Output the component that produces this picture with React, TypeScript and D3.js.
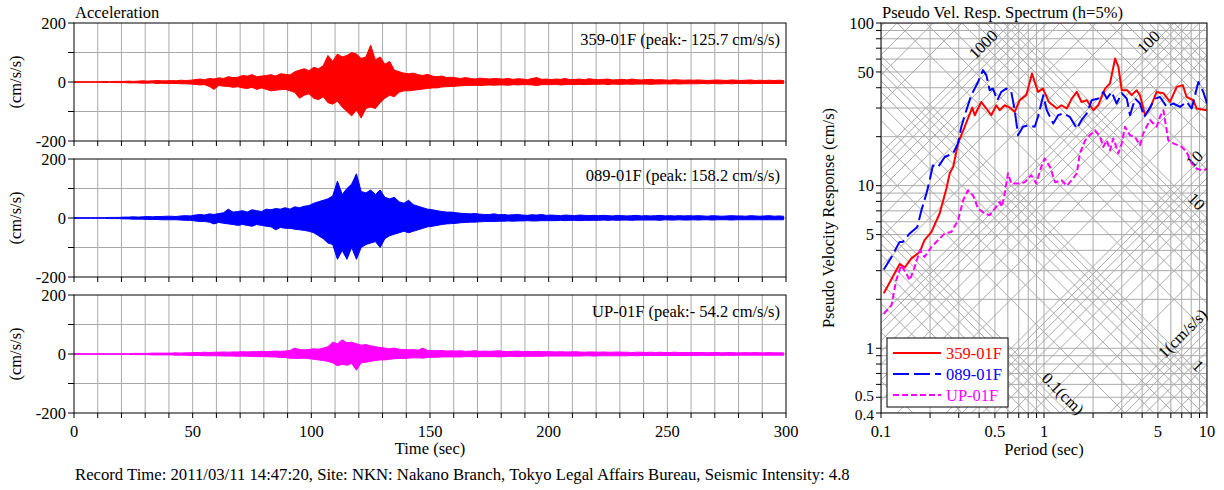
import React from 'react';
import * as d3 from 'd3';

const FONT = '"Liberation Serif", "Times New Roman", serif';
const FS = 16.5;

// ---------- acceleration records (2 s bins: upper / lower envelope, cm/s/s) ----------
const BIN = 2;
const timeTicks = [0, 50, 100, 150, 200, 250, 300];
const accGrid = [-100, 0, 100];
const accTicks = [-200, -100, 0, 100, 200];
const accLabels = [-200, 0, 200];

const hi359 = [1,1,1,1,1,1,2,1,2,2, 2,3,2,3,4,3,4,5,4,4, 5,4,6,5,6,8,10,8,12,10, 14,12,18,15,16,22,20,25,18,20,
  22,25,20,28,26,24,35,40,45,38, 50,45,55,90,70,95,85,90,100,95, 80,85,125,75,85,60,70,40,35,30, 28,30,25,22,26,20,18,20,15,16,
  14,12,15,12,10,13,12,10,12,11, 10,12,9,11,10,8,12,15,9,10, 8,10,9,12,8,9,10,8,11,9, 8,9,10,7,8,9,7,10,8,7,
  8,9,7,8,7,6,8,7,6,7, 6,7,6,5,6,7,6,5,7,6, 5,6,7,5,6,5,6,5,6,5];
const lo359 = [1,1,1,1,1,1,2,1,2,2, 2,3,3,3,4,4,3,5,4,5, 5,5,6,6,7,8,10,9,15,25, 12,14,15,18,16,20,22,18,25,20,
  25,30,28,26,25,30,35,55,45,40, 55,60,50,70,75,65,85,100,115,95, 122,90,85,90,70,55,45,50,35,30, 30,28,26,24,22,20,20,17,16,15,
  14,13,12,12,11,12,11,10,11,10, 10,11,9,10,9,9,10,12,9,9, 9,8,10,9,8,9,8,9,8,8, 8,7,9,7,8,8,7,8,7,7,
  7,8,7,7,6,7,6,7,6,6, 6,6,5,6,5,6,6,5,6,5, 5,5,6,5,5,5,5,5,5,5];
const hi089 = [1,1,1,1,1,1,1,2,2,2, 3,3,4,3,4,5,4,5,5,6, 6,5,7,8,7,10,12,10,14,12, 15,18,30,20,22,25,20,28,25,22,
  30,28,32,30,35,30,38,35,40,42, 50,55,60,65,75,125,80,100,115,150, 90,85,95,80,95,70,65,70,55,50, 60,45,40,35,30,28,25,22,20,20,
  18,16,15,14,15,13,12,12,14,11, 12,10,11,12,10,9,11,10,12,9, 10,9,8,10,9,8,10,9,8,9, 8,9,8,7,9,8,7,8,9,7,
  8,7,8,9,7,8,7,8,7,8, 7,8,7,6,8,7,6,7,8,7, 7,6,8,7,6,7,8,6,7,6];
const lo089 = [1,1,1,1,1,1,1,2,2,2, 3,3,4,4,4,5,5,5,6,6, 6,6,7,8,8,10,12,12,14,20, 15,18,20,22,25,22,25,28,22,25,
  28,30,40,32,35,35,38,40,42,45, 50,60,70,85,90,140,110,140,100,140, 100,90,85,80,100,70,60,55,50,45, 50,45,40,35,30,28,25,22,20,19,
  18,16,15,14,14,13,12,12,12,11, 11,10,11,10,10,9,10,10,9,9, 9,9,8,9,8,8,9,8,8,8, 8,7,8,7,8,7,7,8,7,7,
  7,7,7,8,6,7,7,6,7,7, 6,7,6,6,7,6,6,6,7,6, 6,6,6,6,6,6,6,6,6,6];
const hiUP = [1,1,1,1,1,1,1,1,1,1, 1,1,2,2,2,2,3,3,3,3, 3,4,3,4,4,5,5,6,5,6, 6,7,6,7,7,8,7,8,8,9,
  8,9,10,9,10,12,20,15,14,15, 18,16,20,25,40,35,48,38,40,35, 30,32,28,25,22,20,18,20,16,15, 14,15,13,20,12,12,11,12,10,11,
  10,11,9,10,11,9,10,9,10,11, 9,8,9,10,8,9,8,9,8,8, 8,7,8,7,7,8,7,6,7,7, 6,7,6,6,7,6,6,5,6,6,
  5,6,5,6,5,5,6,5,5,5, 5,5,5,4,5,5,4,5,5,4, 4,5,4,5,4,4,5,4,4,4];
const loUP = [1,1,1,1,1,1,1,1,1,1, 1,1,2,2,2,2,3,3,3,3, 3,4,4,4,5,5,5,6,6,6, 6,7,7,7,8,7,8,8,9,9,
  9,10,10,12,12,14,15,15,14,16, 18,20,22,25,30,40,35,38,32,55, 30,28,25,22,20,20,18,16,15,15, 14,13,13,14,12,11,11,10,10,10,
  10,10,9,9,10,9,9,9,9,10, 9,8,8,9,8,8,8,8,8,7, 7,7,7,7,7,7,7,6,6,7, 6,6,6,6,6,6,6,5,6,5,
  5,5,5,5,5,5,5,5,5,5, 5,5,4,5,5,4,5,4,5,4, 4,4,4,4,4,4,4,4,4,4];

const channelNames = ['359-01F', '089-01F', 'UP-01F'];
const peakTexts = ['359-01F (peak:- 125.7 cm/s/s)', '089-01F (peak: 158.2 cm/s/s)', 'UP-01F (peak:- 54.2 cm/s/s)'];
const channelColors = ['#ff0000', '#0000ff', '#ff00ff'];
const channelDash = ['none', '16,5', '6,3'];
const highs = [hi359, hi089, hiUP];
const lows = [lo359, lo089, loUP];

// ---------- pseudo velocity response spectra: [period (s), Sv (cm/s)] ----------
const sv359: [number, number][] = [[0.104,2.18],[0.130,3.29],[0.140,3.14],[0.153,3.56],[0.173,3.91],[0.185,4.62],[0.204,5.19],[0.229,6.74],
  [0.252,9.6],[0.264,11.9],[0.277,13.0],[0.297,18.2],[0.326,23.0],[0.363,30.2],[0.376,27.1],[0.412,32.7],[0.443,29.8],[0.475,27.1],
  [0.510,31.2],[0.535,29.1],[0.574,31.2],[0.616,30.2],[0.661,28.4],[0.709,33.5],[0.779,36.0],[0.844,48.9],[0.919,37.7],[0.986,39.5],
  [1.07,32.7],[1.20,29.8],[1.28,31.2],[1.38,29.8],[1.48,34.3],[1.59,37.7],[1.70,32.7],[1.83,33.5],[2.01,29.1],[2.15,31.2],[2.37,39.5],
  [2.54,42.5],[2.73,60.5],[2.86,53.7],[3.0,38.6],[3.24,38.6],[3.45,36.0],[3.7,38.6],[3.88,36.0],[4.17,27.1],[4.47,29.8],[4.91,37.7],
  [5.40,37.0],[5.93,32.7],[6.52,40.5],[7.10,41.5],[7.50,35.1],[8.24,33.5],[8.65,29.8],[9.95,29.1]];
const sv089: [number, number][] = [[0.104,3.05],[0.116,3.64],[0.130,4.51],[0.136,4.51],[0.150,5.08],[0.167,5.57],[0.177,7.06],[0.190,8.94],
  [0.199,10.8],[0.208,13.3],[0.224,13.0],[0.246,15.0],[0.277,15.8],[0.297,18.2],[0.311,23.0],[0.334,29.1],[0.358,36.0],[0.394,43.4],
  [0.422,51.3],[0.443,47.8],[0.464,38.6],[0.486,39.5],[0.517,33.5],[0.547,37.7],[0.587,39.5],[0.630,37.7],[0.661,29.1],[0.693,20.4],
  [0.743,23.0],[0.798,23.5],[0.877,23.0],[0.919,26.5],[0.962,32.0],[0.99,36.0],[1.04,29.1],[1.14,24.1],[1.22,27.1],[1.31,27.8],
  [1.44,26.5],[1.59,22.4],[1.70,25.3],[1.83,27.8],[1.96,33.5],[2.15,34.3],[2.31,37.7],[2.43,34.3],[2.60,37.7],[2.79,32.0],[3.0,37.0],
  [3.22,34.3],[3.37,27.1],[3.62,34.3],[3.88,32.0],[4.11,26.5],[4.37,29.1],[4.80,34.3],[5.15,35.1],[5.66,30.5],[6.21,32.0],[6.83,30.5],
  [7.5,32.7],[8.05,29.8],[8.85,43.4],[9.49,37.7],[10,32.0]];
const svUP: [number, number][] = [[0.104,1.63],[0.116,1.84],[0.124,2.62],[0.133,3.24],[0.143,2.88],[0.150,2.62],[0.161,3.16],[0.173,4.01],
  [0.185,3.64],[0.204,4.20],[0.224,4.62],[0.246,5.08],[0.270,5.19],[0.297,6.12],[0.319,8.13],[0.342,9.37],[0.367,8.73],[0.394,7.23],
  [0.433,6.74],[0.464,6.58],[0.499,7.23],[0.535,7.94],[0.552,7.4],[0.574,8.94],[0.601,11.9],[0.630,10.3],[0.693,10.3],[0.762,10.5],
  [0.836,11.6],[0.897,10.3],[0.962,13.0],[1.01,14.7],[1.09,13.0],[1.17,10.5],[1.28,10.8],[1.38,10.0],[1.48,10.8],[1.59,11.9],
  [1.66,15.8],[1.79,19.0],[1.91,20.4],[2.06,21.9],[2.21,19.9],[2.31,17.3],[2.43,19.0],[2.54,16.5],[2.66,19.5],[2.86,15.8],[3.0,18.2],
  [3.14,23.0],[3.37,20.4],[3.62,19.9],[3.88,17.7],[4.06,20.9],[4.47,25.3],[4.91,23.0],[5.15,26.5],[5.40,29.1],[5.79,19.0],[6.21,18.2],
  [7.0,17.3],[7.5,16.1],[8.05,13.7],[8.65,12.7],[9.49,12.4],[10,12.7]];
const spectra = [sv359, sv089, svUP];

const multiples = [1, 2, 3, 4, 5, 6, 7, 8, 9];
const periodDecades = [0.1, 1];
const svDecades = [0.1, 1, 10];
const periodLabels = [0.1, 0.5, 1, 5, 10];
const svLabels = [0.4, 0.5, 1, 5, 10, 50, 100];
const accDecades = [0.1, 1, 10, 100, 1000];
const dispDecades = [0.01, 0.1, 1, 10, 100];
const accLineLabels = [{ a: 1000, t: 0.443, text: '1000' }, { a: 100, t: 4.58, text: '100' }, { a: 10, t: 8.75, text: '10' }, { a: 1, t: 7.4, text: '1(cm/s/s)' }];
const dispLineLabels = [{ d: 0.1, t: 1.25, text: '0.1(cm)' }, { d: 1, t: 8.43, text: '1' }, { d: 10, t: 8.23, text: '10' }];

const GRID = '#aaaaaa';

export default function App() {
  const W = 1224, H = 490;
  const L = { x0: 74, x1: 786, tops: [23, 159, 295], h: 118 };
  const tX = d3.scaleLinear().domain([0, 300]).range([L.x0, L.x1]);

  const S = { x0: 881, x1: 1207, y0: 23, y1: 413 };
  const pX = d3.scaleLog().domain([0.1, 10]).range([S.x0, S.x1]);
  const pY = d3.scaleLog().domain([0.4, 100]).range([S.y1, S.y0]);

  const periodTicks: number[] = [];
  periodDecades.forEach(d => multiples.forEach(m => periodTicks.push(+(d * m).toPrecision(3))));
  periodTicks.push(10);
  const svTicks: number[] = [];
  svDecades.forEach(d => multiples.forEach(m => { const v = +(d * m).toPrecision(3); if (v >= 0.4) svTicks.push(v); }));
  svTicks.push(100);
  const accVals: number[] = [];
  accDecades.forEach(d => multiples.forEach(m => accVals.push(d * m)));
  const dispVals: number[] = [];
  dispDecades.forEach(d => multiples.forEach(m => dispVals.push(d * m)));

  const TWO_PI = 2 * Math.PI;
  const svAcc = (a: number, t: number) => (a * t) / TWO_PI;
  const svDisp = (d: number, t: number) => (TWO_PI * d) / t;

  const specLine = d3.line<[number, number]>().x(d => pX(d[0])).y(d => pY(d[1]));
  // small vertical nudges so the two closely spaced bottom labels do not collide
  const svLabelShift = (v: number) => (v === 0.4 ? 2 : v === 0.5 ? -2 : 0);

  return (
    <svg width={W} height={H} style={{ position: 'absolute', left: 0, top: 0, background: '#fff' }} fontFamily={FONT}>
      <defs>
        <clipPath id="specClip"><rect x={S.x0} y={S.y0} width={S.x1 - S.x0} height={S.y1 - S.y0} /></clipPath>
      </defs>
      <rect x={0} y={0} width={W} height={H} fill="#fff" />

      {/* ---------------- acceleration panels ---------------- */}
      <text x={L.x0 + 1} y={18} fontSize={FS}>Acceleration</text>
      {channelNames.map((name, ci) => {
        const top = L.tops[ci];
        const yS = d3.scaleLinear().domain([-200, 200]).range([top + L.h, top]);
        const hi = highs[ci], lo = lows[ci];
        const area = d3.area<number>()
          .x((_, i) => tX(i * BIN + BIN / 2))
          .y0((_, i) => yS(-lo[i]))
          .y1(h => yS(h));
        const gridT = d3.range(10, 300, 10);
        return (
          <g key={name}>
            {gridT.map(t => <line key={'v' + t} x1={tX(t)} x2={tX(t)} y1={top} y2={top + L.h} stroke={GRID} strokeWidth={1} />)}
            {accGrid.map(v => <line key={'h' + v} x1={L.x0} x2={L.x1} y1={yS(v)} y2={yS(v)} stroke={GRID} strokeWidth={1} />)}
            <line x1={L.x0} x2={tX(BIN / 2)} y1={yS(0)} y2={yS(0)} stroke={channelColors[ci]} strokeWidth={2} />
            <path d={area(hi) || ''} fill={channelColors[ci]} stroke={channelColors[ci]} strokeWidth={1} strokeLinejoin="miter" />
            <rect x={L.x0} y={top} width={L.x1 - L.x0} height={L.h} fill="none" stroke="#000" strokeWidth={1} />
            {accTicks.map(v => <line key={'yt' + v} x1={L.x0 - 6} x2={L.x0} y1={yS(v)} y2={yS(v)} stroke="#000" />)}
            {accLabels.map(v => (
              <text key={'yl' + v} x={L.x0 - 8} y={yS(v)} dy="0.35em" textAnchor="end" fontSize={FS}>{v}</text>
            ))}
            {d3.range(0, 301, 10).map(t => (
              <line key={'xt' + t} x1={tX(t)} x2={tX(t)} y1={top + L.h} y2={top + L.h + 5} stroke="#000" />
            ))}
            <text x={L.x1 - 6} y={top + 22} textAnchor="end" fontSize={FS}>{peakTexts[ci]}</text>
            <text transform={`translate(21,${top + L.h / 2}) rotate(-90)`} textAnchor="middle" fontSize={FS}>(cm/s/s)</text>
          </g>
        );
      })}
      {timeTicks.map(t => (
        <text key={'tl' + t} x={tX(t)} y={437} textAnchor="middle" fontSize={FS}>{t}</text>
      ))}
      <text x={(L.x0 + L.x1) / 2} y={454} textAnchor="middle" fontSize={FS}>Time (sec)</text>
      <text x={75} y={480} fontSize={16.7}>Record Time: 2011/03/11 14:47:20, Site: NKN: Nakano Branch, Tokyo Legal Affairs Bureau, Seismic Intensity: 4.8</text>

      {/* ---------------- tripartite spectrum ---------------- */}
      <text x={S.x0 + 1} y={18} fontSize={FS}>Pseudo Vel. Resp. Spectrum (h=5%)</text>
      <g clipPath="url(#specClip)">
        {periodTicks.map(t => <line key={'pg' + t} x1={pX(t)} x2={pX(t)} y1={S.y0} y2={S.y1} stroke={GRID} />)}
        {svTicks.map(v => <line key={'sg' + v} x1={S.x0} x2={S.x1} y1={pY(v)} y2={pY(v)} stroke={GRID} />)}
        {accVals.map(a => (
          <line key={'a' + a} x1={pX(0.1)} y1={pY(svAcc(a, 0.1))} x2={pX(10)} y2={pY(svAcc(a, 10))} stroke={GRID} />
        ))}
        {dispVals.map(d => (
          <line key={'d' + d} x1={pX(0.1)} y1={pY(svDisp(d, 0.1))} x2={pX(10)} y2={pY(svDisp(d, 10))} stroke={GRID} />
        ))}
      </g>
      {accLineLabels.map(l => (
        <text key={'al' + l.text} transform={`translate(${pX(l.t)},${pY(svAcc(l.a, l.t))}) rotate(-45)`} y={1} textAnchor="middle" fontSize={FS}>{l.text}</text>
      ))}
      {dispLineLabels.map(l => (
        <text key={'dl' + l.text} transform={`translate(${pX(l.t)},${pY(svDisp(l.d, l.t))}) rotate(45)`} y={1} textAnchor="middle" fontSize={FS}>{l.text}</text>
      ))}
      <g clipPath="url(#specClip)">
        {spectra.map((s, i) => (
          <path key={'sp' + i} d={specLine(s) || ''} fill="none" stroke={channelColors[i]} strokeWidth={2}
            strokeDasharray={channelDash[i]} strokeLinejoin="round" />
        ))}
      </g>
      <rect x={S.x0} y={S.y0} width={S.x1 - S.x0} height={S.y1 - S.y0} fill="none" stroke="#000" />
      {periodTicks.map(t => <line key={'pt' + t} x1={pX(t)} x2={pX(t)} y1={S.y1} y2={S.y1 + 5} stroke="#000" />)}
      {svTicks.map(v => <line key={'st' + v} x1={S.x0 - 5} x2={S.x0} y1={pY(v)} y2={pY(v)} stroke="#000" />)}
      {periodLabels.map(t => (
        <text key={'pl' + t} x={pX(t)} y={437} textAnchor="middle" fontSize={FS}>{t}</text>
      ))}
      {svLabels.map(v => (
        <text key={'sl' + v} x={S.x0 - 7} y={pY(v) + svLabelShift(v)} dy="0.35em" textAnchor="end"
          fontSize={v < 1 ? 15.5 : FS}>{v}</text>
      ))}
      <text x={(S.x0 + S.x1) / 2} y={455} textAnchor="middle" fontSize={FS}>Period (sec)</text>
      <text transform={`translate(834,${(S.y0 + S.y1) / 2}) rotate(-90)`} textAnchor="middle" fontSize={FS}>Pseudo Velocity Response (cm/s)</text>

      {/* legend */}
      <rect x={887} y={338} width={121} height={69} fill="#fff" stroke="#000" />
      {channelNames.map((n, i) => (
        <g key={'lg' + n}>
          <line x1={893} x2={941} y1={353 + i * 21} y2={353 + i * 21} stroke={channelColors[i]} strokeWidth={2} strokeDasharray={channelDash[i]} />
          <text x={946} y={353 + i * 21} dy="0.35em" fill={channelColors[i]} fontSize={FS}>{n}</text>
        </g>
      ))}
    </svg>
  );
}
